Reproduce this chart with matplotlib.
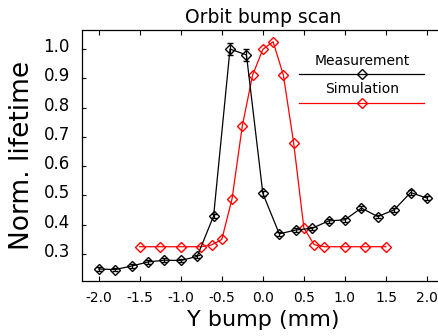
import matplotlib
matplotlib.use('Agg')
import matplotlib.pyplot as plt
import matplotlib.transforms as mtransforms
from matplotlib.lines import Line2D

# measured normalised lifetime vs vertical bump
meas_x = [-2.0, -1.8, -1.6, -1.4, -1.2, -1.0, -0.8, -0.6, -0.4, -0.2,
          0.0, 0.2, 0.4, 0.6, 0.8, 1.0, 1.2, 1.4, 1.6, 1.8, 2.0]
meas_y = [0.249, 0.247, 0.259, 0.273, 0.279, 0.278, 0.292, 0.430, 1.000, 0.980,
          0.507, 0.369, 0.382, 0.388, 0.413, 0.417, 0.457, 0.428, 0.451, 0.510, 0.491]
meas_err = [0.006, 0.006, 0.006, 0.006, 0.006, 0.006, 0.006, 0.008, 0.02, 0.02,
            0.008, 0.006, 0.006, 0.006, 0.006, 0.006, 0.006, 0.006, 0.006, 0.008, 0.008]

# simulation
sim_x = [-1.5, -1.25, -1.0, -0.75, -0.625, -0.5, -0.375, -0.25, -0.125, 0.0,
         0.125, 0.25, 0.375, 0.5, 0.625, 0.75, 1.0, 1.25, 1.5]
sim_y = [0.325, 0.325, 0.325, 0.325, 0.331, 0.350, 0.489, 0.738, 0.911, 0.999,
         1.025, 0.911, 0.680, 0.389, 0.332, 0.325, 0.325, 0.325, 0.325]

xticks = [-2.0, -1.5, -1.0, -0.5, 0.0, 0.5, 1.0, 1.5, 2.0]
yticks = [0.3, 0.4, 0.5, 0.6, 0.7, 0.8, 0.9, 1.0]

W, H = 439, 336
fig = plt.figure(figsize=(W / 100, H / 100), dpi=100)
ax = fig.add_axes([82.3 / W, 1 - 281 / H, (443.4 - 82.3) / W, (281 - 29.7) / H])

ax.errorbar(meas_x, meas_y, yerr=meas_err, color='black', lw=0.9, marker='D',
            ms=5.5, mfc='none', mec='black', mew=1.0, ecolor='black',
            elinewidth=0.9, capsize=2, capthick=0.9)
ax.plot(sim_x, sim_y, color='red', lw=0.9, marker='D', ms=5.5,
        mfc='none', mec='red', mew=1.0)

ax.set_xlim(-2.2, 2.2)
ax.set_ylim(0.208, 1.066)
ax.set_xticks(xticks)
ax.set_yticks(yticks)
ax.set_xticklabels(['%.1f' % v for v in xticks])
ax.set_yticklabels(['%.1f' % v for v in yticks])
ax.tick_params(axis='x', direction='in', top=True, length=3.5, width=0.8,
               labelsize=10, pad=7)
ax.tick_params(axis='y', direction='in', right=False, length=3, width=0.8,
               labelsize=12, pad=9)
# IDL puts the y labels a little above their ticks
for lab in ax.get_yticklabels():
    lab.set_transform(lab.get_transform() +
                      mtransforms.ScaledTranslation(0, 4 / 100, fig.dpi_scale_trans))
for s in ax.spines.values():
    s.set_linewidth(0.9)

ax.set_title('Orbit bump scan', fontsize=13.5, pad=5)
ax.set_xlabel('Y bump (mm)', fontsize=16, labelpad=4)
ax.set_ylabel('Norm. lifetime', fontsize=19, labelpad=6)

# legend: label above a short line with a marker in the middle
for label, color, ty, ly in [('Measurement', 'black', 60.7, 74),
                             ('Simulation', 'red', 89.3, 102.7)]:
    fig.text(362 / W, 1 - ty / H, label, ha='center', va='center', fontsize=10)
    fig.add_artist(Line2D([299 / W, 424 / W], [1 - ly / H, 1 - ly / H],
                          color=color, lw=0.9, transform=fig.transFigure))
    fig.add_artist(Line2D([362 / W], [1 - ly / H], color=color, marker='D',
                          ms=5.5, mfc='none', mec=color, mew=1.0,
                          transform=fig.transFigure))

fig.savefig('out.png', dpi=100)
